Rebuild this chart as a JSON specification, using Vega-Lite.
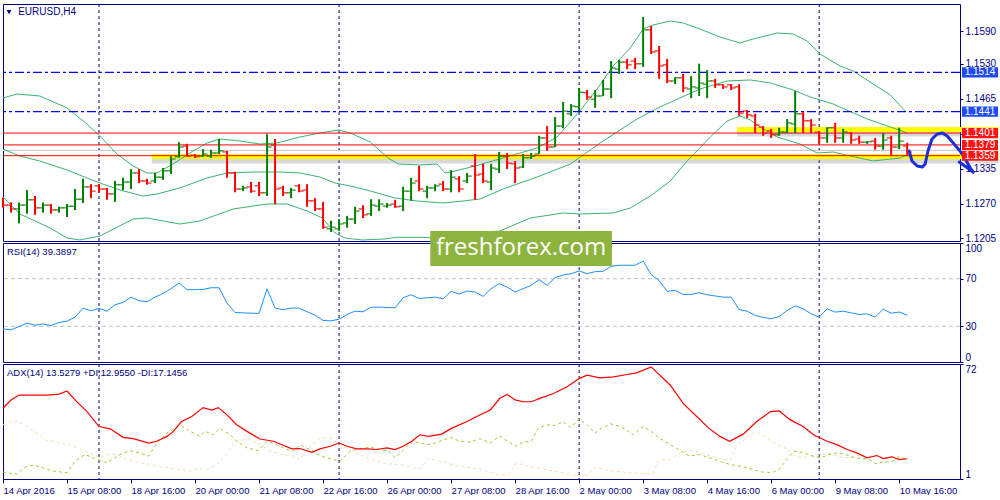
{
"$schema":"https://vega.github.io/schema/vega-lite/v6.json",
"padding":{"left":0,"top":3,"right":0,"bottom":0},
"background":"#ffffff",
"spacing":2,
"bounds":"flush",
"config":{"font":"Liberation Sans","view":{"stroke":"#000080","strokeWidth":1},"axis":{"labelFont":"Liberation Sans"}},
"datasets":{
"weeks":[{"i":12},{"i":42},{"i":72},{"i":102}],
"bid":[{"p":1.13686}],
"zones":[{"p":1.13575,"from":18.6},{"p":1.14077,"from":91.75}],
"dashLevels":[{"p":1.1514},{"p":1.1441}],
"redLevels":[{"p":1.1401},{"p":1.1379},{"p":1.1359}],
"badges":[{"p":1.1514,"k":"blue"},{"p":1.1441,"k":"blue"},{"p":1.1401,"k":"red"},{"p":1.1379,"k":"red"},{"p":1.1359,"k":"red"}],
"rsiLevels":[{"v":30},{"v":70}],
"curve":[
{"seg":"a","k":0,"i":113.25,"p":1.13677},{"seg":"a","k":1,"i":113.6,"p":1.13491},{"seg":"a","k":2,"i":114.25,"p":1.13398},{"seg":"a","k":3,"i":114.9,"p":1.13379},{"seg":"a","k":4,"i":115.25,"p":1.13435},{"seg":"a","k":5,"i":115.6,"p":1.13677},{"seg":"a","k":6,"i":116.1,"p":1.139},{"seg":"a","k":7,"i":116.75,"p":1.13993},{"seg":"a","k":8,"i":117.4,"p":1.14012},{"seg":"a","k":9,"i":118,"p":1.13956},{"seg":"a","k":10,"i":118.75,"p":1.13826},{"seg":"a","k":11,"i":119.6,"p":1.13677},{"seg":"a","k":12,"i":120.25,"p":1.13528},{"seg":"a","k":13,"i":120.9,"p":1.13361},{"seg":"a","k":14,"i":121.25,"p":1.13286},
{"seg":"b","k":0,"i":119.5,"p":1.13472},{"seg":"b","k":1,"i":121.25,"p":1.13286}],
"bars":[
{"i":0,"o":1.1278,"h":1.1281,"l":1.1262,"c":1.1267},
{"i":1,"o":1.1267,"h":1.1272,"l":1.1253,"c":1.126},
{"i":2,"o":1.126,"h":1.1272,"l":1.1233,"c":1.1267},
{"i":3,"o":1.1267,"h":1.1295,"l":1.1251,"c":1.1277},
{"i":4,"o":1.1277,"h":1.1284,"l":1.1249,"c":1.1262},
{"i":5,"o":1.1262,"h":1.1272,"l":1.1253,"c":1.1267},
{"i":6,"o":1.1267,"h":1.1269,"l":1.1251,"c":1.1258},
{"i":7,"o":1.1258,"h":1.1264,"l":1.1253,"c":1.1262},
{"i":8,"o":1.1262,"h":1.1269,"l":1.1245,"c":1.1265},
{"i":9,"o":1.1265,"h":1.1297,"l":1.1258,"c":1.1278},
{"i":10,"o":1.1278,"h":1.1316,"l":1.1271,"c":1.1301},
{"i":11,"o":1.1301,"h":1.1306,"l":1.128,"c":1.1293},
{"i":12,"o":1.1303,"h":1.1306,"l":1.129,"c":1.1297},
{"i":13,"o":1.1297,"h":1.1299,"l":1.1277,"c":1.1288},
{"i":14,"o":1.1288,"h":1.1312,"l":1.1273,"c":1.1305},
{"i":15,"o":1.1305,"h":1.1318,"l":1.1295,"c":1.131},
{"i":16,"o":1.131,"h":1.1334,"l":1.1297,"c":1.1327},
{"i":17,"o":1.1327,"h":1.1334,"l":1.1308,"c":1.1312},
{"i":18,"o":1.1312,"h":1.1316,"l":1.1305,"c":1.1308},
{"i":19,"o":1.1312,"h":1.1327,"l":1.1308,"c":1.1319},
{"i":20,"o":1.1319,"h":1.1336,"l":1.1314,"c":1.1331},
{"i":21,"o":1.1331,"h":1.1358,"l":1.1325,"c":1.1353},
{"i":22,"o":1.1357,"h":1.1384,"l":1.1355,"c":1.1375},
{"i":23,"o":1.1377,"h":1.1381,"l":1.1357,"c":1.1358},
{"i":24,"o":1.136,"h":1.1362,"l":1.1355,"c":1.1357},
{"i":25,"o":1.1358,"h":1.1371,"l":1.1357,"c":1.1362},
{"i":26,"o":1.1358,"h":1.137,"l":1.1355,"c":1.1364},
{"i":27,"o":1.1364,"h":1.139,"l":1.1362,"c":1.1368},
{"i":28,"o":1.1366,"h":1.1368,"l":1.1318,"c":1.1327},
{"i":29,"o":1.1327,"h":1.1329,"l":1.1291,"c":1.1297},
{"i":30,"o":1.1297,"h":1.1303,"l":1.1293,"c":1.1299},
{"i":31,"o":1.1301,"h":1.131,"l":1.129,"c":1.1293},
{"i":32,"o":1.1303,"h":1.131,"l":1.1284,"c":1.129},
{"i":33,"o":1.129,"h":1.1399,"l":1.1284,"c":1.1375},
{"i":34,"o":1.1379,"h":1.139,"l":1.1269,"c":1.1297},
{"i":35,"o":1.1299,"h":1.1303,"l":1.1284,"c":1.129},
{"i":36,"o":1.129,"h":1.1299,"l":1.128,"c":1.1295},
{"i":37,"o":1.1303,"h":1.1306,"l":1.1291,"c":1.1293},
{"i":38,"o":1.1295,"h":1.1306,"l":1.1264,"c":1.1275},
{"i":39,"o":1.1275,"h":1.128,"l":1.1256,"c":1.126},
{"i":40,"o":1.126,"h":1.1273,"l":1.1223,"c":1.1226},
{"i":41,"o":1.1223,"h":1.1238,"l":1.1217,"c":1.1226},
{"i":42,"o":1.1223,"h":1.1241,"l":1.1219,"c":1.1232},
{"i":43,"o":1.1234,"h":1.1247,"l":1.1225,"c":1.1241},
{"i":44,"o":1.1241,"h":1.1264,"l":1.1232,"c":1.1256},
{"i":45,"o":1.126,"h":1.1267,"l":1.1243,"c":1.1249},
{"i":46,"o":1.1251,"h":1.1278,"l":1.1247,"c":1.1267},
{"i":47,"o":1.1265,"h":1.1278,"l":1.1256,"c":1.1269},
{"i":48,"o":1.1265,"h":1.1271,"l":1.1262,"c":1.1267},
{"i":49,"o":1.1269,"h":1.1277,"l":1.1262,"c":1.1264},
{"i":50,"o":1.1265,"h":1.1301,"l":1.1256,"c":1.1293},
{"i":51,"o":1.1293,"h":1.1318,"l":1.1275,"c":1.1308},
{"i":52,"o":1.1312,"h":1.134,"l":1.1293,"c":1.1297},
{"i":53,"o":1.1293,"h":1.1303,"l":1.128,"c":1.1299},
{"i":54,"o":1.1299,"h":1.1306,"l":1.1293,"c":1.1303},
{"i":55,"o":1.1306,"h":1.1312,"l":1.1293,"c":1.1297},
{"i":56,"o":1.1297,"h":1.1332,"l":1.1291,"c":1.1319},
{"i":57,"o":1.1316,"h":1.1321,"l":1.1291,"c":1.1297},
{"i":58,"o":1.1312,"h":1.1327,"l":1.1308,"c":1.1321},
{"i":59,"o":1.134,"h":1.1362,"l":1.1277,"c":1.1323},
{"i":60,"o":1.1325,"h":1.1344,"l":1.1308,"c":1.1312},
{"i":61,"o":1.131,"h":1.1344,"l":1.1295,"c":1.1336},
{"i":62,"o":1.1334,"h":1.1366,"l":1.1327,"c":1.1358},
{"i":63,"o":1.1358,"h":1.1364,"l":1.1334,"c":1.1345},
{"i":64,"o":1.1344,"h":1.1349,"l":1.1308,"c":1.1336},
{"i":65,"o":1.1338,"h":1.1362,"l":1.1336,"c":1.1355},
{"i":66,"o":1.1355,"h":1.1364,"l":1.1353,"c":1.1358},
{"i":67,"o":1.1362,"h":1.1396,"l":1.1362,"c":1.1392},
{"i":68,"o":1.1392,"h":1.1414,"l":1.1368,"c":1.1375},
{"i":69,"o":1.1375,"h":1.1431,"l":1.1375,"c":1.1414},
{"i":70,"o":1.1414,"h":1.1459,"l":1.141,"c":1.1442},
{"i":71,"o":1.1437,"h":1.1455,"l":1.1433,"c":1.1451},
{"i":72,"o":1.145,"h":1.1485,"l":1.1442,"c":1.1477},
{"i":73,"o":1.1476,"h":1.1481,"l":1.1463,"c":1.1468},
{"i":74,"o":1.1464,"h":1.1481,"l":1.1448,"c":1.147},
{"i":75,"o":1.147,"h":1.15,"l":1.147,"c":1.1483},
{"i":76,"o":1.1483,"h":1.1535,"l":1.1466,"c":1.1522},
{"i":77,"o":1.152,"h":1.1537,"l":1.1511,"c":1.1533},
{"i":78,"o":1.1533,"h":1.1539,"l":1.152,"c":1.1528},
{"i":79,"o":1.1535,"h":1.1541,"l":1.152,"c":1.153},
{"i":80,"o":1.153,"h":1.1617,"l":1.1524,"c":1.1593},
{"i":81,"o":1.1593,"h":1.16,"l":1.1548,"c":1.1552},
{"i":82,"o":1.1554,"h":1.1563,"l":1.1502,"c":1.1526},
{"i":83,"o":1.1528,"h":1.1539,"l":1.1494,"c":1.1498},
{"i":84,"o":1.1498,"h":1.1505,"l":1.1492,"c":1.1504},
{"i":85,"o":1.1504,"h":1.1511,"l":1.1477,"c":1.1485},
{"i":86,"o":1.1483,"h":1.1507,"l":1.1466,"c":1.1487},
{"i":87,"o":1.1485,"h":1.153,"l":1.147,"c":1.1494},
{"i":88,"o":1.1492,"h":1.1518,"l":1.1466,"c":1.1498},
{"i":89,"o":1.1498,"h":1.1502,"l":1.1485,"c":1.1491},
{"i":90,"o":1.1491,"h":1.1492,"l":1.1483,"c":1.1487},
{"i":91,"o":1.1491,"h":1.1492,"l":1.1481,"c":1.1485},
{"i":92,"o":1.1487,"h":1.1492,"l":1.1433,"c":1.1438},
{"i":93,"o":1.1442,"h":1.1444,"l":1.1429,"c":1.1435},
{"i":94,"o":1.1433,"h":1.1437,"l":1.1401,"c":1.1416},
{"i":95,"o":1.1412,"h":1.1414,"l":1.1396,"c":1.1401},
{"i":96,"o":1.1405,"h":1.1409,"l":1.1392,"c":1.1398},
{"i":97,"o":1.1398,"h":1.1411,"l":1.1396,"c":1.1403},
{"i":98,"o":1.1403,"h":1.1427,"l":1.1401,"c":1.142},
{"i":99,"o":1.1418,"h":1.1479,"l":1.1401,"c":1.1437},
{"i":100,"o":1.1437,"h":1.144,"l":1.1401,"c":1.1424},
{"i":101,"o":1.1424,"h":1.1427,"l":1.1401,"c":1.1416},
{"i":102,"o":1.1403,"h":1.1405,"l":1.1381,"c":1.1392},
{"i":103,"o":1.1392,"h":1.1412,"l":1.1383,"c":1.1411},
{"i":104,"o":1.1411,"h":1.142,"l":1.1383,"c":1.1392},
{"i":105,"o":1.1392,"h":1.1409,"l":1.1383,"c":1.1403},
{"i":106,"o":1.1401,"h":1.1403,"l":1.1381,"c":1.1388},
{"i":107,"o":1.139,"h":1.1396,"l":1.1381,"c":1.1384},
{"i":108,"o":1.1384,"h":1.1386,"l":1.1381,"c":1.1385},
{"i":109,"o":1.1386,"h":1.1392,"l":1.137,"c":1.1377},
{"i":110,"o":1.1377,"h":1.1401,"l":1.137,"c":1.1388},
{"i":111,"o":1.1392,"h":1.1396,"l":1.1358,"c":1.1375},
{"i":112,"o":1.1375,"h":1.1411,"l":1.1371,"c":1.1386},
{"i":113,"o":1.1377,"h":1.1383,"l":1.1358,"c":1.1366}],
"bb":[
{"band":"u","i":0,"v":1.14663},{"band":"u","i":1.75,"v":1.14737},{"band":"u","i":4.6,"v":1.147},{"band":"u","i":8,"v":1.14477},{"band":"u","i":10.5,"v":1.14179},{"band":"u","i":12.1,"v":1.13956},{"band":"u","i":14.25,"v":1.13621},{"band":"u","i":16.25,"v":1.13398},{"band":"u","i":18,"v":1.13268},{"band":"u","i":19.25,"v":1.13268},{"band":"u","i":21.25,"v":1.13435},{"band":"u","i":23.75,"v":1.13677},{"band":"u","i":25.5,"v":1.13826},{"band":"u","i":27.1,"v":1.139},{"band":"u","i":29.6,"v":1.13863},{"band":"u","i":32.1,"v":1.13807},{"band":"u","i":34.25,"v":1.13826},{"band":"u","i":37.1,"v":1.13937},{"band":"u","i":39.6,"v":1.14012},{"band":"u","i":41.9,"v":1.14068},{"band":"u","i":43.4,"v":1.14012},{"band":"u","i":45.9,"v":1.13844},{"band":"u","i":48.1,"v":1.13547},{"band":"u","i":49.4,"v":1.13435},{"band":"u","i":52.1,"v":1.13417},{"band":"u","i":54.25,"v":1.13435},{"band":"u","i":55.25,"v":1.13268},{"band":"u","i":56.5,"v":1.13305},{"band":"u","i":59,"v":1.13398},{"band":"u","i":62.5,"v":1.13547},{"band":"u","i":66.75,"v":1.13733},{"band":"u","i":69.25,"v":1.13937},{"band":"u","i":72.1,"v":1.14421},{"band":"u","i":74.25,"v":1.1483},{"band":"u","i":76.25,"v":1.15258},{"band":"u","i":78.4,"v":1.15593},{"band":"u","i":80,"v":1.15946},{"band":"u","i":81.25,"v":1.16021},{"band":"u","i":83.4,"v":1.16095},{"band":"u","i":85,"v":1.16058},{"band":"u","i":87.1,"v":1.15946},{"band":"u","i":89.6,"v":1.15797},{"band":"u","i":92.1,"v":1.15686},{"band":"u","i":93.75,"v":1.1576},{"band":"u","i":96.75,"v":1.15872},{"band":"u","i":98.75,"v":1.15853},{"band":"u","i":100.5,"v":1.15723},{"band":"u","i":102.1,"v":1.15481},{"band":"u","i":104.6,"v":1.15258},{"band":"u","i":106.25,"v":1.15165},{"band":"u","i":108.75,"v":1.14923},{"band":"u","i":110.9,"v":1.14719},{"band":"u","i":112.75,"v":1.14421},
{"band":"m","i":0,"v":1.13714},{"band":"m","i":2.1,"v":1.13584},{"band":"m","i":4.6,"v":1.13491},{"band":"m","i":8,"v":1.13324},{"band":"m","i":10.5,"v":1.13175},{"band":"m","i":12.1,"v":1.13082},{"band":"m","i":14.6,"v":1.12952},{"band":"m","i":17.5,"v":1.1284},{"band":"m","i":19.25,"v":1.12877},{"band":"m","i":22.1,"v":1.12989},{"band":"m","i":25.5,"v":1.13175},{"band":"m","i":28,"v":1.13268},{"band":"m","i":31.25,"v":1.13286},{"band":"m","i":34.6,"v":1.13286},{"band":"m","i":37.1,"v":1.13268},{"band":"m","i":39.6,"v":1.13193},{"band":"m","i":41.5,"v":1.13082},{"band":"m","i":43.4,"v":1.13026},{"band":"m","i":45.9,"v":1.12933},{"band":"m","i":49,"v":1.12803},{"band":"m","i":51.75,"v":1.12747},{"band":"m","i":55,"v":1.1271},{"band":"m","i":57.5,"v":1.12747},{"band":"m","i":59.6,"v":1.12784},{"band":"m","i":62.5,"v":1.1297},{"band":"m","i":66.75,"v":1.13193},{"band":"m","i":70.9,"v":1.13435},{"band":"m","i":75,"v":1.13863},{"band":"m","i":79.25,"v":1.14272},{"band":"m","i":82.1,"v":1.14495},{"band":"m","i":84.6,"v":1.14663},{"band":"m","i":87.1,"v":1.1483},{"band":"m","i":90.5,"v":1.14979},{"band":"m","i":93.4,"v":1.14998},{"band":"m","i":95.9,"v":1.14942},{"band":"m","i":98.75,"v":1.14812},{"band":"m","i":100.9,"v":1.14681},{"band":"m","i":103.75,"v":1.14551},{"band":"m","i":108,"v":1.14272},{"band":"m","i":111.25,"v":1.14105},{"band":"m","i":113,"v":1.14012},
{"band":"l","i":0,"v":1.12821},{"band":"l","i":2.1,"v":1.12505},{"band":"l","i":5.9,"v":1.12245},{"band":"l","i":8,"v":1.12059},{"band":"l","i":9.6,"v":1.12022},{"band":"l","i":12.1,"v":1.12096},{"band":"l","i":16.25,"v":1.12412},{"band":"l","i":18,"v":1.12431},{"band":"l","i":22.1,"v":1.12319},{"band":"l","i":24.6,"v":1.12375},{"band":"l","i":28.75,"v":1.12598},{"band":"l","i":33,"v":1.12691},{"band":"l","i":35.5,"v":1.12691},{"band":"l","i":38,"v":1.12561},{"band":"l","i":39.9,"v":1.12431},{"band":"l","i":41.5,"v":1.12152},{"band":"l","i":42.75,"v":1.12059},{"band":"l","i":44.9,"v":1.12022},{"band":"l","i":47.75,"v":1.12041},{"band":"l","i":49,"v":1.12071},{"band":"l","i":52.4,"v":1.12071},{"band":"l","i":54,"v":1.12059},{"band":"l","i":55.6,"v":1.12096},{"band":"l","i":59,"v":1.12152},{"band":"l","i":62.1,"v":1.12189},{"band":"l","i":65.9,"v":1.12431},{"band":"l","i":70,"v":1.12524},{"band":"l","i":72.1,"v":1.12505},{"band":"l","i":76.25,"v":1.12524},{"band":"l","i":78.4,"v":1.12617},{"band":"l","i":80.9,"v":1.1284},{"band":"l","i":83.4,"v":1.13119},{"band":"l","i":85.5,"v":1.13491},{"band":"l","i":88.4,"v":1.13937},{"band":"l","i":90.5,"v":1.14235},{"band":"l","i":92.1,"v":1.14328},{"band":"l","i":93.4,"v":1.14253},{"band":"l","i":94.6,"v":1.14123},{"band":"l","i":96.75,"v":1.13937},{"band":"l","i":99.6,"v":1.13807},{"band":"l","i":101.75,"v":1.1364},{"band":"l","i":103.75,"v":1.13658},{"band":"l","i":105.9,"v":1.13584},{"band":"l","i":108.75,"v":1.13491},{"band":"l","i":112.1,"v":1.13547},{"band":"l","i":113,"v":1.13603}],
"rsi":[
{"i":0,"v":27.8},{"i":1,"v":27.0},{"i":2,"v":29.8},{"i":3,"v":32.6},{"i":4,"v":30.9},{"i":5,"v":32.0},{"i":6,"v":30.6},{"i":7,"v":33.2},{"i":8,"v":34.3},{"i":9,"v":37.7},{"i":10,"v":45.3},{"i":11,"v":43.0},{"i":12,"v":45.0},{"i":13,"v":42.7},{"i":14,"v":48.1},{"i":15,"v":50.0},{"i":16,"v":54.5},{"i":17,"v":51.5},{"i":18,"v":50.6},{"i":19,"v":54.5},{"i":20,"v":57.6},{"i":21,"v":61.6},{"i":22,"v":66.4},{"i":23,"v":60.7},{"i":24,"v":60.8},{"i":25,"v":61.0},{"i":26,"v":62.4},{"i":27,"v":62.4},{"i":28,"v":49.5},{"i":29,"v":41.6},{"i":30,"v":41.3},{"i":31,"v":41.0},{"i":32,"v":40.8},{"i":33,"v":61.5},{"i":34,"v":45.3},{"i":35,"v":43.9},{"i":36,"v":45.3},{"i":37,"v":45.3},{"i":38,"v":42.2},{"i":39,"v":39.4},{"i":40,"v":34.9},{"i":41,"v":34.6},{"i":42,"v":36.0},{"i":43,"v":39.9},{"i":44,"v":42.7},{"i":45,"v":42.2},{"i":46,"v":46.1},{"i":47,"v":46.1},{"i":48,"v":45.8},{"i":49,"v":45.5},{"i":50,"v":54.0},{"i":51,"v":56.5},{"i":52,"v":53.4},{"i":53,"v":54.0},{"i":54,"v":54.5},{"i":55,"v":53.1},{"i":56,"v":59.3},{"i":57,"v":57.1},{"i":58,"v":59.6},{"i":59,"v":58.8},{"i":60,"v":55.1},{"i":61,"v":61.6},{"i":62,"v":65.8},{"i":63,"v":63.0},{"i":64,"v":58.8},{"i":65,"v":61.6},{"i":66,"v":64.4},{"i":67,"v":69.2},{"i":68,"v":64.4},{"i":69,"v":70.9},{"i":70,"v":73.1},{"i":71,"v":74.2},{"i":72,"v":76.5},{"i":73,"v":74.2},{"i":74,"v":75.9},{"i":75,"v":76.2},{"i":76,"v":80.4},{"i":77,"v":81.3},{"i":78,"v":81.3},{"i":79,"v":81.3},{"i":80,"v":84.9},{"i":81,"v":73.4},{"i":82,"v":68.6},{"i":83,"v":59.3},{"i":84,"v":60.2},{"i":85,"v":56.8},{"i":86,"v":56.8},{"i":87,"v":58.2},{"i":88,"v":56.5},{"i":89,"v":55.5},{"i":90,"v":54.5},{"i":91,"v":54.5},{"i":92,"v":44.1},{"i":93,"v":42.7},{"i":94,"v":39.1},{"i":95,"v":37.5},{"i":96,"v":36.3},{"i":97,"v":38.2},{"i":98,"v":43.3},{"i":99,"v":47.2},{"i":100,"v":44.7},{"i":101,"v":40.5},{"i":102,"v":37.7},{"i":103,"v":44.7},{"i":104,"v":41.9},{"i":105,"v":42.7},{"i":106,"v":41.3},{"i":107,"v":39.9},{"i":108,"v":40.5},{"i":109,"v":37.7},{"i":110,"v":44.4},{"i":111,"v":41.0},{"i":112,"v":42.0},{"i":113,"v":39.4}],
"adx":[
{"i":0,"v":44.7},{"i":1,"v":49.8},{"i":2,"v":52.8},{"i":5.5,"v":52.8},{"i":7,"v":53.4},{"i":8,"v":55.3},{"i":9,"v":49.8},{"i":10.5,"v":42.6},{"i":12,"v":33.4},{"i":13.4,"v":32.0},{"i":15,"v":26.7},{"i":16.3,"v":25.9},{"i":18.2,"v":23.2},{"i":19.2,"v":24.3},{"i":20.5,"v":27.3},{"i":21.3,"v":30.4},{"i":22.3,"v":36.5},{"i":23.6,"v":39.6},{"i":25,"v":45.1},{"i":26.1,"v":43.6},{"i":26.9,"v":45.1},{"i":28,"v":40.6},{"i":29.2,"v":34.5},{"i":30.5,"v":30.4},{"i":32.1,"v":25.7},{"i":33.8,"v":24.3},{"i":35,"v":21.8},{"i":36.1,"v":19.6},{"i":37.1,"v":19.8},{"i":38.6,"v":17.5},{"i":39.6,"v":19.6},{"i":40.9,"v":21.2},{"i":42,"v":23.2},{"i":43,"v":21.2},{"i":44.2,"v":19.6},{"i":45.5,"v":19.6},{"i":46.7,"v":19.2},{"i":48,"v":20.2},{"i":49,"v":19.2},{"i":50,"v":21.2},{"i":51.1,"v":24.3},{"i":52.1,"v":28.3},{"i":53.2,"v":27.3},{"i":54.8,"v":28.7},{"i":56.1,"v":32.4},{"i":58,"v":36.5},{"i":59.2,"v":39.6},{"i":60.9,"v":43.6},{"i":62.1,"v":50.8},{"i":63,"v":53.2},{"i":64,"v":49.8},{"i":65,"v":48.7},{"i":66,"v":48.7},{"i":67.1,"v":50.8},{"i":68.8,"v":53.8},{"i":70.5,"v":57.9},{"i":72,"v":63.0},{"i":73,"v":65.1},{"i":74.6,"v":63.4},{"i":76.3,"v":64.0},{"i":78,"v":65.5},{"i":79.2,"v":66.5},{"i":81,"v":70.2},{"i":83.4,"v":58.9},{"i":85,"v":47.7},{"i":86.7,"v":39.6},{"i":88.2,"v":32.4},{"i":89.6,"v":27.3},{"i":90.8,"v":24.3},{"i":92.5,"v":28.7},{"i":94.2,"v":36.5},{"i":95.9,"v":42.6},{"i":97,"v":43.0},{"i":98.4,"v":37.5},{"i":100,"v":33.4},{"i":101.3,"v":28.3},{"i":103,"v":24.3},{"i":104.2,"v":22.2},{"i":105.5,"v":19.2},{"i":106.7,"v":17.1},{"i":108,"v":14.1},{"i":109.2,"v":15.5},{"i":110,"v":13.6},{"i":111.1,"v":14.7},{"i":112,"v":13.0},{"i":113,"v":13.5}],
"pdi":[
{"i":0,"v":5.3},{"i":1.7,"v":3.9},{"i":2.75,"v":8.3},{"i":3.8,"v":9.6},{"i":5,"v":7.9},{"i":6.3,"v":5.9},{"i":8,"v":4.9},{"i":9,"v":12.0},{"i":10.25,"v":16.1},{"i":12.1,"v":12.4},{"i":13,"v":11.0},{"i":14.6,"v":16.1},{"i":15.9,"v":18.5},{"i":17.1,"v":17.1},{"i":18.2,"v":15.1},{"i":19.2,"v":23.2},{"i":20.5,"v":29.4},{"i":22.1,"v":34.5},{"i":23.4,"v":30.4},{"i":24.6,"v":27.3},{"i":25.25,"v":30.4},{"i":26.3,"v":28.3},{"i":27.1,"v":32.4},{"i":28.4,"v":28.3},{"i":29.2,"v":24.3},{"i":30.5,"v":20.2},{"i":31.9,"v":18.5},{"i":33,"v":24.3},{"i":34.2,"v":22.2},{"i":35.5,"v":19.2},{"i":36.3,"v":18.1},{"i":37.1,"v":22.2},{"i":38.6,"v":18.5},{"i":39.8,"v":15.1},{"i":41.3,"v":13.0},{"i":42.1,"v":12.0},{"i":43.4,"v":18.1},{"i":44.6,"v":19.8},{"i":45.9,"v":20.6},{"i":47.1,"v":19.2},{"i":48.2,"v":18.1},{"i":49,"v":14.1},{"i":50.25,"v":20.2},{"i":51.3,"v":24.3},{"i":52.1,"v":23.2},{"i":53.4,"v":22.2},{"i":54.6,"v":24.3},{"i":55.9,"v":26.7},{"i":57.1,"v":24.3},{"i":58.4,"v":23.8},{"i":59.6,"v":25.9},{"i":60.9,"v":23.2},{"i":62.1,"v":27.5},{"i":64,"v":21.2},{"i":65,"v":23.8},{"i":66,"v":24.3},{"i":66.9,"v":32.4},{"i":68,"v":34.5},{"i":69,"v":34.0},{"i":70,"v":36.5},{"i":70.9,"v":32.8},{"i":72,"v":38.1},{"i":73,"v":34.5},{"i":74,"v":29.4},{"i":74.8,"v":32.4},{"i":75.9,"v":35.1},{"i":77.1,"v":33.4},{"i":77.9,"v":31.4},{"i":78.7,"v":28.3},{"i":80,"v":33.4},{"i":81,"v":30.4},{"i":82,"v":26.3},{"i":83.4,"v":22.2},{"i":84.8,"v":18.1},{"i":85.8,"v":15.1},{"i":87,"v":16.1},{"i":88.3,"v":14.1},{"i":89.6,"v":12.0},{"i":90.8,"v":10.0},{"i":92,"v":9.0},{"i":93.7,"v":6.9},{"i":94.9,"v":5.3},{"i":96.1,"v":4.9},{"i":97,"v":6.9},{"i":97.8,"v":12.0},{"i":98.8,"v":18.1},{"i":99.9,"v":17.5},{"i":101.2,"v":15.1},{"i":102.2,"v":14.1},{"i":103.2,"v":16.1},{"i":104.25,"v":17.1},{"i":105.3,"v":16.1},{"i":106.4,"v":14.1},{"i":107.5,"v":13.6},{"i":108.3,"v":13.0},{"i":109.1,"v":10.4},{"i":110,"v":11.6},{"i":111,"v":11.6},{"i":112,"v":14.5},{"i":113,"v":13.0}],
"mdi":[
{"i":0,"v":34.5},{"i":1.7,"v":36.9},{"i":3,"v":33.4},{"i":4.2,"v":29.4},{"i":5.5,"v":24.7},{"i":8,"v":22.6},{"i":9.6,"v":19.8},{"i":10.9,"v":17.1},{"i":12.1,"v":14.1},{"i":13,"v":16.1},{"i":14.2,"v":16.1},{"i":15.5,"v":13.0},{"i":17.1,"v":11.0},{"i":18.4,"v":10.0},{"i":20,"v":8.3},{"i":22.1,"v":6.9},{"i":23.4,"v":5.9},{"i":24.6,"v":7.5},{"i":25.5,"v":6.9},{"i":26.7,"v":10.0},{"i":28,"v":16.1},{"i":28.8,"v":23.2},{"i":30.5,"v":25.9},{"i":32.1,"v":22.6},{"i":33.4,"v":18.1},{"i":35,"v":16.1},{"i":36.3,"v":15.1},{"i":37.1,"v":13.0},{"i":38.4,"v":21.2},{"i":39.6,"v":26.3},{"i":40.9,"v":26.3},{"i":42.1,"v":22.2},{"i":43.4,"v":19.2},{"i":44.6,"v":16.1},{"i":46.3,"v":12.4},{"i":48,"v":10.4},{"i":49.6,"v":10.0},{"i":51.3,"v":7.9},{"i":52.1,"v":7.5},{"i":53.2,"v":13.6},{"i":53.8,"v":13.0},{"i":55.5,"v":11.0},{"i":56.7,"v":9.0},{"i":58,"v":8.3},{"i":59.6,"v":6.9},{"i":60.9,"v":5.5},{"i":62.1,"v":3.2},{"i":63.2,"v":3.9},{"i":64.2,"v":11.0},{"i":65.5,"v":9.0},{"i":67.1,"v":7.5},{"i":68.8,"v":5.9},{"i":70.5,"v":4.3},{"i":72,"v":2.8},{"i":73,"v":3.4},{"i":74,"v":8.3},{"i":75.5,"v":6.5},{"i":77.1,"v":5.5},{"i":78.8,"v":4.7},{"i":80.5,"v":4.3},{"i":81.3,"v":4.7},{"i":81.9,"v":12.4},{"i":83.4,"v":13.0},{"i":84.6,"v":17.1},{"i":85.9,"v":18.5},{"i":87,"v":17.7},{"i":88.4,"v":15.1},{"i":89.6,"v":13.6},{"i":90.9,"v":12.6},{"i":91.75,"v":22.2},{"i":93,"v":26.3},{"i":94,"v":30.4},{"i":95.5,"v":26.3},{"i":96.7,"v":22.2},{"i":97.95,"v":19.8},{"i":99,"v":15.1},{"i":100,"v":14.1},{"i":101.3,"v":15.5},{"i":102.1,"v":16.1},{"i":103.4,"v":16.5},{"i":104.6,"v":14.5},{"i":105.9,"v":14.1},{"i":106.9,"v":15.5},{"i":108,"v":14.5},{"i":109.2,"v":16.1},{"i":110.5,"v":13.4},{"i":111.5,"v":15.5},{"i":112.3,"v":14.1},{"i":113,"v":17.1}]
},
"vconcat":[
{"width":957,"height":237,"layer":[
{"data":{"name":"weeks"},"mark":{"type":"rule","color":"#000080","strokeDash":[3,3],"strokeWidth":1},"encoding":{"x":{"field":"i","type":"quantitative","scale":{"domain":[0,119.6],"nice":false,"zero":false},"axis":null}}},
{"data":{"name":"bid"},"mark":{"type":"rule","color":"#C8C8C8","strokeWidth":1},"encoding":{"y":{"field":"p","type":"quantitative","scale":{"domain":[1.12003,1.16411],"nice":false,"zero":false},"axis":{"orient":"right","values":[1.1205,1.127,1.1335,1.14,1.1465,1.153,1.159],"format":".4f","labelFontSize":10,"labelColor":"#000080","tickColor":"#000080","tickSize":3,"labelPadding":2,"domain":false,"grid":false,"labelFlush":false,"title":null}}}},
{"data":{"name":"zones"},"mark":{"type":"rule","color":"#808080","opacity":0.3,"strokeWidth":6,"yOffset":4},"encoding":{"x":{"field":"from","type":"quantitative","scale":{"domain":[0,119.6],"nice":false,"zero":false},"axis":null},"x2":{"datum":124.4},"y":{"field":"p","type":"quantitative","scale":{"domain":[1.12003,1.16411],"nice":false,"zero":false},"axis":{"orient":"right","values":[1.1205,1.127,1.1335,1.14,1.1465,1.153,1.159],"format":".4f","labelFontSize":10,"labelColor":"#000080","tickColor":"#000080","tickSize":3,"labelPadding":2,"domain":false,"grid":false,"labelFlush":false,"title":null}}}},
{"data":{"name":"zones"},"mark":{"type":"rule","color":"#FFFF00","strokeWidth":5},"encoding":{"x":{"field":"from","type":"quantitative","scale":{"domain":[0,119.6],"nice":false,"zero":false},"axis":null},"x2":{"datum":124.4},"y":{"field":"p","type":"quantitative","scale":{"domain":[1.12003,1.16411],"nice":false,"zero":false},"axis":{"orient":"right","values":[1.1205,1.127,1.1335,1.14,1.1465,1.153,1.159],"format":".4f","labelFontSize":10,"labelColor":"#000080","tickColor":"#000080","tickSize":3,"labelPadding":2,"domain":false,"grid":false,"labelFlush":false,"title":null}}}},
{"data":{"name":"bb"},"mark":{"type":"line","color":"#3CB371","strokeWidth":1},"encoding":{"x":{"field":"i","type":"quantitative","scale":{"domain":[0,119.6],"nice":false,"zero":false},"axis":null},"y":{"field":"v","type":"quantitative","scale":{"domain":[1.12003,1.16411],"nice":false,"zero":false},"axis":{"orient":"right","values":[1.1205,1.127,1.1335,1.14,1.1465,1.153,1.159],"format":".4f","labelFontSize":10,"labelColor":"#000080","tickColor":"#000080","tickSize":3,"labelPadding":2,"domain":false,"grid":false,"labelFlush":false,"title":null}},"detail":{"field":"band"}}},
{"data":{"name":"dashLevels"},"mark":{"type":"rule","color":"#0000FF","strokeDash":[9,3,3,3],"strokeWidth":1.3},"encoding":{"y":{"field":"p","type":"quantitative","scale":{"domain":[1.12003,1.16411],"nice":false,"zero":false},"axis":{"orient":"right","values":[1.1205,1.127,1.1335,1.14,1.1465,1.153,1.159],"format":".4f","labelFontSize":10,"labelColor":"#000080","tickColor":"#000080","tickSize":3,"labelPadding":2,"domain":false,"grid":false,"labelFlush":false,"title":null}}}},
{"data":{"name":"redLevels"},"mark":{"type":"rule","color":"#FF0000","strokeWidth":1},"encoding":{"y":{"field":"p","type":"quantitative","scale":{"domain":[1.12003,1.16411],"nice":false,"zero":false},"axis":{"orient":"right","values":[1.1205,1.127,1.1335,1.14,1.1465,1.153,1.159],"format":".4f","labelFontSize":10,"labelColor":"#000080","tickColor":"#000080","tickSize":3,"labelPadding":2,"domain":false,"grid":false,"labelFlush":false,"title":null}}}},
{"data":{"name":"bars"},"mark":{"type":"rule","strokeWidth":2},"encoding":{"x":{"field":"i","type":"quantitative","scale":{"domain":[0,119.6],"nice":false,"zero":false},"axis":null},"y":{"field":"l","type":"quantitative","scale":{"domain":[1.12003,1.16411],"nice":false,"zero":false},"axis":{"orient":"right","values":[1.1205,1.127,1.1335,1.14,1.1465,1.153,1.159],"format":".4f","labelFontSize":10,"labelColor":"#000080","tickColor":"#000080","tickSize":3,"labelPadding":2,"domain":false,"grid":false,"labelFlush":false,"title":null}},"y2":{"field":"h"},"color":{"condition":{"test":"datum.c >= datum.o","value":"#008000"},"value":"#FF0000"}}},
{"data":{"name":"bars"},"transform":[{"filter":"datum.i > 0"}],"mark":{"type":"tick","orient":"horizontal","size":4,"thickness":1.5,"xOffset":-2.5},"encoding":{"x":{"field":"i","type":"quantitative","scale":{"domain":[0,119.6],"nice":false,"zero":false},"axis":null},"y":{"field":"o","type":"quantitative","scale":{"domain":[1.12003,1.16411],"nice":false,"zero":false},"axis":{"orient":"right","values":[1.1205,1.127,1.1335,1.14,1.1465,1.153,1.159],"format":".4f","labelFontSize":10,"labelColor":"#000080","tickColor":"#000080","tickSize":3,"labelPadding":2,"domain":false,"grid":false,"labelFlush":false,"title":null}},"color":{"condition":{"test":"datum.c >= datum.o","value":"#008000"},"value":"#FF0000"}}},
{"data":{"name":"bars"},"mark":{"type":"tick","orient":"horizontal","size":4,"thickness":1.5,"xOffset":2.5},"encoding":{"x":{"field":"i","type":"quantitative","scale":{"domain":[0,119.6],"nice":false,"zero":false},"axis":null},"y":{"field":"c","type":"quantitative","scale":{"domain":[1.12003,1.16411],"nice":false,"zero":false},"axis":{"orient":"right","values":[1.1205,1.127,1.1335,1.14,1.1465,1.153,1.159],"format":".4f","labelFontSize":10,"labelColor":"#000080","tickColor":"#000080","tickSize":3,"labelPadding":2,"domain":false,"grid":false,"labelFlush":false,"title":null}},"color":{"condition":{"test":"datum.c >= datum.o","value":"#008000"},"value":"#FF0000"}}},
{"data":{"name":"curve"},"mark":{"type":"line","color":"#1C2FD6","strokeWidth":3,"strokeCap":"round","strokeJoin":"round"},"encoding":{"x":{"field":"i","type":"quantitative","scale":{"domain":[0,119.6],"nice":false,"zero":false},"axis":null},"y":{"field":"p","type":"quantitative","scale":{"domain":[1.12003,1.16411],"nice":false,"zero":false},"axis":{"orient":"right","values":[1.1205,1.127,1.1335,1.14,1.1465,1.153,1.159],"format":".4f","labelFontSize":10,"labelColor":"#000080","tickColor":"#000080","tickSize":3,"labelPadding":2,"domain":false,"grid":false,"labelFlush":false,"title":null}},"detail":{"field":"seg"},"order":{"field":"k"}}},
{"data":{"name":"badges"},"mark":{"type":"point","shape":"M-1,-0.28H1V0.28H-1Z","size":1296,"filled":true,"opacity":1,"strokeWidth":0},"encoding":{"x":{"datum":122.1,"type":"quantitative","scale":{"domain":[0,119.6],"nice":false,"zero":false},"axis":null},"y":{"field":"p","type":"quantitative","scale":{"domain":[1.12003,1.16411],"nice":false,"zero":false},"axis":{"orient":"right","values":[1.1205,1.127,1.1335,1.14,1.1465,1.153,1.159],"format":".4f","labelFontSize":10,"labelColor":"#000080","tickColor":"#000080","tickSize":3,"labelPadding":2,"domain":false,"grid":false,"labelFlush":false,"title":null}},"color":{"field":"k","type":"nominal","scale":{"domain":["blue","red"],"range":["#1E4BF0","#FF1414"]},"legend":null}}},
{"data":{"name":"badges"},"mark":{"type":"text","color":"#FFFFFF","fontSize":10,"align":"center","baseline":"middle"},"encoding":{"x":{"datum":122.1,"type":"quantitative","scale":{"domain":[0,119.6],"nice":false,"zero":false},"axis":null},"y":{"field":"p","type":"quantitative","scale":{"domain":[1.12003,1.16411],"nice":false,"zero":false},"axis":{"orient":"right","values":[1.1205,1.127,1.1335,1.14,1.1465,1.153,1.159],"format":".4f","labelFontSize":10,"labelColor":"#000080","tickColor":"#000080","tickSize":3,"labelPadding":2,"domain":false,"grid":false,"labelFlush":false,"title":null}},"text":{"field":"p","type":"quantitative","format":".4f"}}},
{"data":{"values":[{}]},"mark":{"type":"point","shape":"triangle-down","size":22,"filled":true,"color":"#000080","opacity":1},"encoding":{"x":{"datum":0.75,"type":"quantitative","scale":{"domain":[0,119.6],"nice":false,"zero":false},"axis":null},"y":{"datum":1.1626,"type":"quantitative","scale":{"domain":[1.12003,1.16411],"nice":false,"zero":false},"axis":{"orient":"right","values":[1.1205,1.127,1.1335,1.14,1.1465,1.153,1.159],"format":".4f","labelFontSize":10,"labelColor":"#000080","tickColor":"#000080","tickSize":3,"labelPadding":2,"domain":false,"grid":false,"labelFlush":false,"title":null}}}},
{"data":{"values":[{}]},"mark":{"type":"text","text":"EURUSD,H4","color":"#000080","fontSize":10,"align":"left","baseline":"middle"},"encoding":{"x":{"datum":1.9,"type":"quantitative","scale":{"domain":[0,119.6],"nice":false,"zero":false},"axis":null},"y":{"datum":1.1626,"type":"quantitative","scale":{"domain":[1.12003,1.16411],"nice":false,"zero":false},"axis":{"orient":"right","values":[1.1205,1.127,1.1335,1.14,1.1465,1.153,1.159],"format":".4f","labelFontSize":10,"labelColor":"#000080","tickColor":"#000080","tickSize":3,"labelPadding":2,"domain":false,"grid":false,"labelFlush":false,"title":null}}}}
]},
{"width":957,"height":119,"layer":[
{"data":{"name":"weeks"},"mark":{"type":"rule","color":"#000080","strokeDash":[3,3],"strokeWidth":1},"encoding":{"x":{"field":"i","type":"quantitative","scale":{"domain":[0,119.6],"nice":false,"zero":false},"axis":null}}},
{"data":{"name":"rsiLevels"},"mark":{"type":"rule","color":"#C0C0C0","strokeDash":[4,3],"strokeWidth":1},"encoding":{"y":{"field":"v","type":"quantitative","scale":{"domain":[0,100],"nice":false,"zero":false},"axis":{"orient":"right","values":[0,30,70,100],"labelFontSize":10,"labelColor":"#000080","tickColor":"#000080","tickSize":3,"labelPadding":2,"domain":false,"grid":false,"labelFlush":true,"title":null}}}},
{"data":{"name":"rsi"},"mark":{"type":"line","color":"#1E90FF","strokeWidth":1},"encoding":{"x":{"field":"i","type":"quantitative","scale":{"domain":[0,119.6],"nice":false,"zero":false},"axis":null},"y":{"field":"v","type":"quantitative","scale":{"domain":[0,100],"nice":false,"zero":false},"axis":{"orient":"right","values":[0,30,70,100],"labelFontSize":10,"labelColor":"#000080","tickColor":"#000080","tickSize":3,"labelPadding":2,"domain":false,"grid":false,"labelFlush":true,"title":null}}}},
{"data":{"values":[{}]},"mark":{"type":"text","text":"RSI(14) 39.3897","color":"#000080","fontSize":9.5,"align":"left","baseline":"middle"},"encoding":{"x":{"datum":0.5,"type":"quantitative","scale":{"domain":[0,119.6],"nice":false,"zero":false},"axis":null},"y":{"datum":92.4,"type":"quantitative","scale":{"domain":[0,100],"nice":false,"zero":false},"axis":{"orient":"right","values":[0,30,70,100],"labelFontSize":10,"labelColor":"#000080","tickColor":"#000080","tickSize":3,"labelPadding":2,"domain":false,"grid":false,"labelFlush":true,"title":null}}}},
{"data":{"values":[{}]},"mark":{"type":"rect","color":"#8DB43E","opacity":1},"encoding":{"x":{"datum":53.4,"type":"quantitative","scale":{"domain":[0,119.6],"nice":false,"zero":false},"axis":null},"x2":{"datum":76.1},"y":{"datum":110.1,"type":"quantitative","scale":{"domain":[0,100],"nice":false,"zero":false},"axis":{"orient":"right","values":[0,30,70,100],"labelFontSize":10,"labelColor":"#000080","tickColor":"#000080","tickSize":3,"labelPadding":2,"domain":false,"grid":false,"labelFlush":true,"title":null}},"y2":{"datum":80.7}}},
{"data":{"values":[{}]},"mark":{"type":"text","text":"freshforex.com","color":"#FFFFFF","font":"Open Sans","fontSize":24,"align":"center","baseline":"middle"},"encoding":{"x":{"datum":64.75,"type":"quantitative","scale":{"domain":[0,119.6],"nice":false,"zero":false},"axis":null},"y":{"datum":95.6,"type":"quantitative","scale":{"domain":[0,100],"nice":false,"zero":false},"axis":{"orient":"right","values":[0,30,70,100],"labelFontSize":10,"labelColor":"#000080","tickColor":"#000080","tickSize":3,"labelPadding":2,"domain":false,"grid":false,"labelFlush":true,"title":null}}}}
]},
{"width":957,"height":115,"layer":[
{"data":{"name":"weeks"},"mark":{"type":"rule","color":"#000080","strokeDash":[3,3],"strokeWidth":1},"encoding":{"x":{"field":"i","type":"quantitative","scale":{"domain":[0,119.6],"nice":false,"zero":false},"axis":{"values":[0,8,16,24,32,40,48,56,64,72,80,88,96,104,112],"labelExpr":"['14 Apr 2016','15 Apr 08:00','18 Apr 16:00','20 Apr 00:00','21 Apr 08:00','22 Apr 16:00','26 Apr 00:00','27 Apr 08:00','28 Apr 16:00','2 May 00:00','3 May 08:00','4 May 16:00','6 May 00:00','9 May 08:00','10 May 16:00'][round(datum.value/8)]","labelAlign":"left","labelFlush":false,"labelOverlap":false,"labelFontSize":9.5,"labelColor":"#000080","tickColor":"#000080","tickSize":4,"labelPadding":2,"domain":false,"grid":false,"title":null}}}},
{"data":{"name":"mdi"},"mark":{"type":"line","color":"#F5DEB3","strokeDash":[3,3],"strokeWidth":1},"encoding":{"x":{"field":"i","type":"quantitative","scale":{"domain":[0,119.6],"nice":false,"zero":false},"axis":{"values":[0,8,16,24,32,40,48,56,64,72,80,88,96,104,112],"labelExpr":"['14 Apr 2016','15 Apr 08:00','18 Apr 16:00','20 Apr 00:00','21 Apr 08:00','22 Apr 16:00','26 Apr 00:00','27 Apr 08:00','28 Apr 16:00','2 May 00:00','3 May 08:00','4 May 16:00','6 May 00:00','9 May 08:00','10 May 16:00'][round(datum.value/8)]","labelAlign":"left","labelFlush":false,"labelOverlap":false,"labelFontSize":9.5,"labelColor":"#000080","tickColor":"#000080","tickSize":4,"labelPadding":2,"domain":false,"grid":false,"title":null}},"y":{"field":"v","type":"quantitative","scale":{"domain":[1,72],"nice":false,"zero":false},"axis":{"orient":"right","values":[1,72],"labelFontSize":10,"labelColor":"#000080","tickColor":"#000080","tickSize":3,"labelPadding":2,"domain":false,"grid":false,"labelFlush":true,"title":null}}}},
{"data":{"name":"pdi"},"mark":{"type":"line","color":"#9ACD32","strokeDash":[3,3],"strokeWidth":1},"encoding":{"x":{"field":"i","type":"quantitative","scale":{"domain":[0,119.6],"nice":false,"zero":false},"axis":{"values":[0,8,16,24,32,40,48,56,64,72,80,88,96,104,112],"labelExpr":"['14 Apr 2016','15 Apr 08:00','18 Apr 16:00','20 Apr 00:00','21 Apr 08:00','22 Apr 16:00','26 Apr 00:00','27 Apr 08:00','28 Apr 16:00','2 May 00:00','3 May 08:00','4 May 16:00','6 May 00:00','9 May 08:00','10 May 16:00'][round(datum.value/8)]","labelAlign":"left","labelFlush":false,"labelOverlap":false,"labelFontSize":9.5,"labelColor":"#000080","tickColor":"#000080","tickSize":4,"labelPadding":2,"domain":false,"grid":false,"title":null}},"y":{"field":"v","type":"quantitative","scale":{"domain":[1,72],"nice":false,"zero":false},"axis":{"orient":"right","values":[1,72],"labelFontSize":10,"labelColor":"#000080","tickColor":"#000080","tickSize":3,"labelPadding":2,"domain":false,"grid":false,"labelFlush":true,"title":null}}}},
{"data":{"name":"adx"},"mark":{"type":"line","color":"#FF0000","strokeWidth":1.2},"encoding":{"x":{"field":"i","type":"quantitative","scale":{"domain":[0,119.6],"nice":false,"zero":false},"axis":{"values":[0,8,16,24,32,40,48,56,64,72,80,88,96,104,112],"labelExpr":"['14 Apr 2016','15 Apr 08:00','18 Apr 16:00','20 Apr 00:00','21 Apr 08:00','22 Apr 16:00','26 Apr 00:00','27 Apr 08:00','28 Apr 16:00','2 May 00:00','3 May 08:00','4 May 16:00','6 May 00:00','9 May 08:00','10 May 16:00'][round(datum.value/8)]","labelAlign":"left","labelFlush":false,"labelOverlap":false,"labelFontSize":9.5,"labelColor":"#000080","tickColor":"#000080","tickSize":4,"labelPadding":2,"domain":false,"grid":false,"title":null}},"y":{"field":"v","type":"quantitative","scale":{"domain":[1,72],"nice":false,"zero":false},"axis":{"orient":"right","values":[1,72],"labelFontSize":10,"labelColor":"#000080","tickColor":"#000080","tickSize":3,"labelPadding":2,"domain":false,"grid":false,"labelFlush":true,"title":null}}}},
{"data":{"values":[{}]},"mark":{"type":"text","text":"ADX(14) 13.5279 +DI:12.9550 -DI:17.1456","color":"#000080","fontSize":9.5,"align":"left","baseline":"middle"},"encoding":{"x":{"datum":0.5,"type":"quantitative","scale":{"domain":[0,119.6],"nice":false,"zero":false},"axis":{"values":[0,8,16,24,32,40,48,56,64,72,80,88,96,104,112],"labelExpr":"['14 Apr 2016','15 Apr 08:00','18 Apr 16:00','20 Apr 00:00','21 Apr 08:00','22 Apr 16:00','26 Apr 00:00','27 Apr 08:00','28 Apr 16:00','2 May 00:00','3 May 08:00','4 May 16:00','6 May 00:00','9 May 08:00','10 May 16:00'][round(datum.value/8)]","labelAlign":"left","labelFlush":false,"labelOverlap":false,"labelFontSize":9.5,"labelColor":"#000080","tickColor":"#000080","tickSize":4,"labelPadding":2,"domain":false,"grid":false,"title":null}},"y":{"datum":66.4,"type":"quantitative","scale":{"domain":[1,72],"nice":false,"zero":false},"axis":{"orient":"right","values":[1,72],"labelFontSize":10,"labelColor":"#000080","tickColor":"#000080","tickSize":3,"labelPadding":2,"domain":false,"grid":false,"labelFlush":true,"title":null}}}}
]}
]
}
